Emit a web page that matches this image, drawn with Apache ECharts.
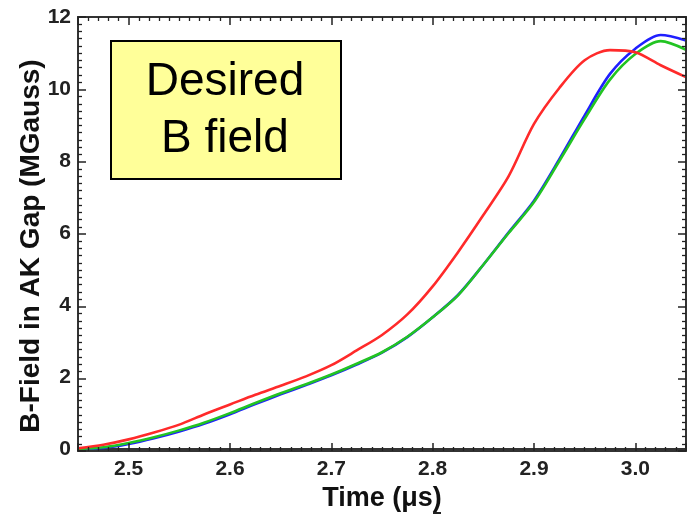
<!DOCTYPE html>
<html>
<head>
<meta charset="utf-8">
<script src="https://cdn.jsdelivr.net/npm/echarts@6/dist/echarts.min.js"></script>
<style>
html,body{margin:0;padding:0;background:#fff;overflow:hidden;}
#wrap{position:relative;width:688px;height:517px;overflow:hidden;}
#chart{position:absolute;left:0;top:0;width:688px;height:517px;}
#ticks{position:absolute;left:0;top:0;width:706px;height:517px;pointer-events:none;}
</style>
</head>
<body>
<div id="wrap"><div id="chart"></div><div id="ticks"></div></div>
<script>
// Time (µs)
var times = [2.45, 2.475, 2.50, 2.525, 2.55, 2.575, 2.60, 2.625, 2.65, 2.675, 2.70, 2.725, 2.75, 2.775, 2.80, 2.825, 2.85, 2.875, 2.90, 2.925, 2.95, 2.975, 3.00, 3.025, 3.05];
// B-field (MGauss)
var redField   = [0.02, 0.12, 0.27, 0.46, 0.68, 0.97, 1.24, 1.51, 1.76, 2.02, 2.33, 2.74, 3.17, 3.74, 4.52, 5.47, 6.50, 7.58, 9.03, 10.03, 10.80, 11.08, 11.02, 10.66, 10.33];
var blueField  = [0.00, 0.03, 0.14, 0.30, 0.49, 0.71, 0.97, 1.25, 1.52, 1.78, 2.05, 2.35, 2.68, 3.11, 3.66, 4.28, 5.12, 6.02, 6.90, 8.05, 9.27, 10.42, 11.12, 11.50, 11.35];
var greenField = [0.00, 0.05, 0.17, 0.33, 0.52, 0.74, 1.00, 1.28, 1.55, 1.80, 2.07, 2.37, 2.69, 3.12, 3.66, 4.27, 5.12, 6.00, 6.86, 8.00, 9.17, 10.26, 10.97, 11.33, 11.09];
var xRange = [2.45, 3.05];
var yTicks = [0, 2, 4, 6, 8, 10, 12];
var boxLines = ['Desired', 'B field'];
var yTitle = 'B-Field in AK Gap (MGauss)';
var xTitle = 'Time (μs)';

function pairs(vals){ return times.map(function(t,i){ return [t, vals[i]]; }); }

var FONT = 'Liberation Sans, Arial, sans-serif';

// ---- main chart: axis lines, labels, titles, curves, box ----
function xAx(pos, showLabel){
  return {
    type:'value', position:pos, min:xRange[0], max:xRange[1], splitNumber:6,
    axisLine:{show:true, onZero:false, lineStyle:{color:'#333', width:2}},
    axisTick:{show:false}, minorTick:{show:false}, splitLine:{show:false},
    axisLabel:{show:showLabel, showMinLabel:false, showMaxLabel:false, margin:10,
      fontWeight:'bold', fontSize:21, color:'#222',
      formatter:function(v){ return Math.abs(v*10-Math.round(v*10))<1e-6 ? v.toFixed(1) : ''; }},
    name: showLabel ? xTitle : '', nameLocation:'middle', nameGap:32,
    nameTextStyle:{fontWeight:'bold', fontSize:27, color:'#111'}
  };
}
function yAx(pos, showLabel){
  return {
    type:'value', position:pos, min:yTicks[0], max:yTicks[yTicks.length-1], interval:2,
    axisLine:{show:true, onZero:false, lineStyle:{color:'#333', width:2}},
    axisTick:{show:false}, minorTick:{show:false}, splitLine:{show:false},
    axisLabel:{show:showLabel, margin:7, fontWeight:'bold', fontSize:21, color:'#222'}
  };
}

var chart = echarts.init(document.getElementById('chart'));
chart.setOption({
  animation:false,
  textStyle:{fontFamily:FONT},
  grid:{left:78, top:17, right:2, bottom:66},
  xAxis:[xAx('bottom', true), xAx('top', false)],
  yAxis:[yAx('left', true), yAx('right', false)],
  series:[
    {type:'line', name:'blue', data:pairs(blueField), showSymbol:false, smooth:0.3, lineStyle:{color:'#1f1fff', width:2.6}},
    {type:'line', name:'green', data:pairs(greenField), showSymbol:false, smooth:0.3, lineStyle:{color:'#22c422', width:2.6}},
    {type:'line', name:'red', data:pairs(redField), showSymbol:false, smooth:0.3, lineStyle:{color:'#ff2a2a', width:2.6}}
  ],
  graphic:[
    {type:'text', x:31, y:246, rotation:Math.PI/2,
      style:{text:yTitle, font:'bold 28px '+FONT, fill:'#111', textAlign:'center', textVerticalAlign:'middle'}},
    {type:'rect', left:110, top:40, shape:{width:230, height:138},
      style:{fill:'#ffff99', stroke:'#000', lineWidth:2}},
    {type:'text', x:225, y:82, style:{text:boxLines[0], font:'46px '+FONT, fill:'#000', textAlign:'center', textVerticalAlign:'middle'}},
    {type:'text', x:225, y:139, style:{text:boxLines[1], font:'46px '+FONT, fill:'#000', textAlign:'center', textVerticalAlign:'middle'}},
    {type:'rect', left:433, top:512, shape:{width:8, height:2}, style:{fill:'#222'}}
  ]
});

// ---- tick overlay: same scales, only inward major/minor ticks on all four sides ----
function tx(pos){
  return {type:'value', position:pos, min:xRange[0], max:xRange[1], splitNumber:6,
    axisLine:{show:true, onZero:false, lineStyle:{color:'#333', width:2}},
    axisTick:{show:true, inside:true, length:8, lineStyle:{color:'#222', width:1.5}},
    minorTick:{show:true, splitNumber:10, length:4, lineStyle:{color:'#222', width:1.3}},
    splitLine:{show:false}, axisLabel:{show:false}};
}
function ty(pos){
  return {type:'value', position:pos, min:yTicks[0], max:yTicks[yTicks.length-1], interval:2,
    axisLine:{show:true, onZero:false, lineStyle:{color:'#333', width:2}},
    axisTick:{show:true, inside:true, length:8, lineStyle:{color:'#222', width:1.5}},
    minorTick:{show:true, splitNumber:10, length:4, lineStyle:{color:'#222', width:1.3}},
    splitLine:{show:false}, axisLabel:{show:false}};
}
var tickChart = echarts.init(document.getElementById('ticks'));
tickChart.setOption({
  animation:false,
  grid:{left:78, top:17, right:20, bottom:66},
  xAxis:[tx('bottom'), tx('top')],
  yAxis:[ty('left'), ty('right')],
  series:[{type:'line', data:[], showSymbol:false}]
});
</script>
</body>
</html>
